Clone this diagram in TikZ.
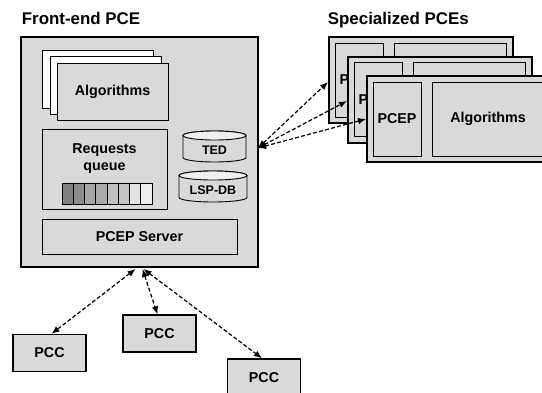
\documentclass[tikz,border=0pt]{standalone}
\usepackage{fontspec}
\setmainfont{Liberation Sans}
\usetikzlibrary{arrows.meta,calc}

\definecolor{boxgray}{HTML}{D9D9D9}
\definecolor{toplight}{HTML}{EFEFEF}
\definecolor{qa}{HTML}{7F7F7F}
\definecolor{qb}{HTML}{8C8C8C}
\definecolor{qc}{HTML}{A6A6A6}
\definecolor{qd}{HTML}{ABABAB}
\definecolor{qe}{HTML}{BFBFBF}
\definecolor{qf}{HTML}{C4C4C4}
\definecolor{qg}{HTML}{E4E4E4}
\definecolor{qh}{HTML}{EEEEEE}

\tikzset{
  outerbox/.style={draw=black, line width=2pt, fill=boxgray, inner sep=0pt},
  innerbox/.style={draw=black, line width=1pt, fill=boxgray, inner sep=0pt},
  paperbox/.style={draw=black, line width=0.9pt, fill=white, inner sep=0pt,
                   minimum width=111pt, minimum height=58pt},
  pccbox/.style={draw=black, line width=1.4pt, fill=boxgray, inner sep=0pt,
                 minimum width=73pt, minimum height=37pt, font=\lbl},
  title/.style={font=\fontsize{16.9}{19}\selectfont\bfseries, inner sep=0pt, anchor=base west},
  dbtext/.style={font=\fontsize{12.5}{14}\selectfont\bfseries, inner sep=0pt},
  cellbox/.style={draw=black, line width=0.8pt, inner sep=0pt,
                  minimum width=11.25pt, minimum height=21pt},
  link/.style={line width=1.2pt, dash pattern=on 4pt off 2.2pt,
               {Latex[length=8pt,width=6.5pt]}-{Latex[length=8pt,width=6.5pt]}},
}
\newcommand\lbl{\fontsize{14.3}{17}\selectfont\bfseries}

% database cylinder: left x, right x, top centre y, bottom centre y, ry
\newcommand\dbcyl[5]{%
  \pgfmathsetmacro\rx{(#2-#1)/2}
  \draw[line width=0.9pt, fill=boxgray] (#1,#3) -- (#1,#4)
     arc[start angle=180, end angle=360, x radius=\rx pt, y radius=#5pt]
     -- (#2,#3)
     arc[start angle=0, end angle=180, x radius=\rx pt, y radius=#5pt] -- cycle;
  \draw[line width=0.9pt, fill=toplight] ({(#1+#2)/2},#3) ellipse[x radius=\rx pt, y radius=#5pt];
}

\begin{document}
\begin{tikzpicture}[x=1pt,y=-1pt]
\useasboundingbox (0,0) rectangle (542,392);
\clip (0,0) rectangle (542,392);

% ---- titles ----
\node[title] (t1) at (21.7,24) {Front-end PCE};
\node[title] (t2) at (327.7,24) {Specialized PCEs};

% ---- front-end PCE ----
\node[outerbox, minimum width=237pt, minimum height=230pt] (fe) at (139.5,152) {};

% stacked algorithm sheets
\node[paperbox] (alg1) at (97.5,79) {};
\node[paperbox] (alg2) at (105.5,85) {};
\node[paperbox, fill=boxgray, minimum height=57pt, font=\lbl] (alg3) at (112.5,91.5) {Algorithms};

% requests queue
\node[innerbox, minimum width=125pt, minimum height=80pt] (rq) at (104.5,169) {};
\node[font=\lbl, align=center, inner sep=0pt] (rqt) at (104.5,159) {Requests\\queue};
\foreach \c [count=\i] in {qa,qb,qc,qd,qe,qf,qg,qh}
  \node[cellbox, fill=\c] (cell\i) at ({62+11.25*(\i-0.5)},193.5) {};

% databases
\dbcyl{183}{246}{135.5}{157.5}{4.5}
\node[dbtext] (ted) at (214.5,150) {TED};
\dbcyl{179}{247}{175.5}{197.5}{4.5}
\node[dbtext] (lspdb) at (213,190.5) {LSP-DB};

% PCEP server
\node[innerbox, minimum width=195pt, minimum height=35pt, font=\lbl] (srv) at (139.5,236.5) {PCEP Server};

% ---- specialized PCEs ----
\foreach \cx/\cy/\n in {421/80/a, 440/99.5/b, 459/119/c} {
  \node[outerbox, minimum width=184pt, minimum height=86pt] (sp\n) at (\cx,\cy) {};
  \node[innerbox, minimum width=48pt, minimum height=74pt, font=\lbl] (pcep\n) at (\cx-62,\cy) {PCEP};
  \node[innerbox, minimum width=112pt, minimum height=74pt, font=\lbl] (algs\n) at (\cx+29,\cy) {Algorithms};
}

% ---- PCCs ----
\node[pccbox] (pcc1) at (49.5,353) {PCC};
\node[pccbox] (pcc2) at (159.5,333.5) {PCC};
\node[pccbox] (pcc3) at (264,377.5) {PCC};

% ---- PCEP sessions ----
\draw[link] ($(fe.east)+(-1,-4)$) -- ($(spa.west)+(0,2)$);
\draw[link] ($(fe.east)+(-1,-4)$) -- ($(spb.west)+(0,1.5)$);
\draw[link] ($(fe.east)+(-1,-4)$) -- (spc.west);

\draw[link] ($(fe.south)+(-4,1)$) -- ($(pcc1.north)+(2,0)$);
\draw[link] ($(fe.south)+(3,1)$) -- ($(pcc2.north)+(-2,0)$);
\draw[link] ($(fe.south)+(4,1)$) -- ($(pcc3.north)+(-2,0)$);
\end{tikzpicture}
\end{document}
